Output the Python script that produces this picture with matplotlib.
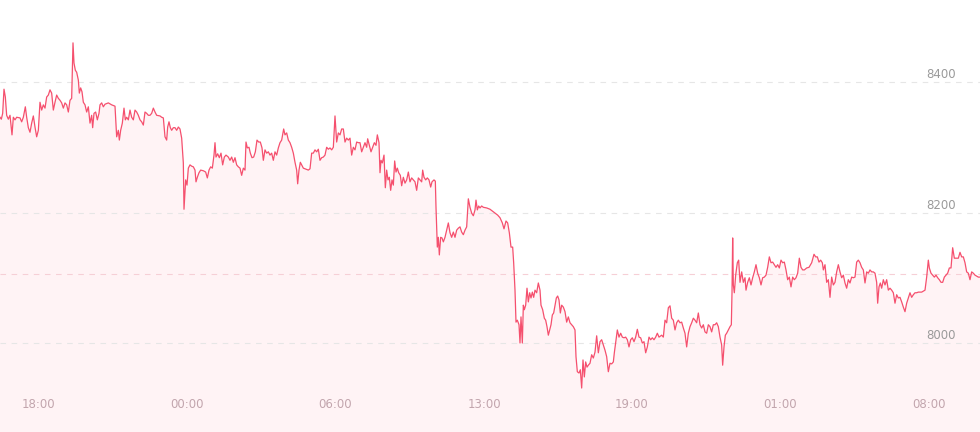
import matplotlib
matplotlib.use("Agg")
import matplotlib.pyplot as plt
from matplotlib.transforms import blended_transform_factory

# sample index (intraday bars) and price
t = [0, 4, 8, 12, 16, 20, 25, 30, 36, 40, 45, 50, 60, 65, 70, 76, 80, 85, 90, 95,
     100, 105, 110, 115, 120, 125, 130, 135, 140, 145, 150, 155, 160, 165, 170, 175, 180, 185, 190, 195,
     200, 205, 210, 215, 219, 222, 226, 230, 235, 238, 242, 246, 250, 255, 260, 265, 270, 275, 278, 282,
     287, 292, 297, 300, 305, 310, 315, 325, 335, 345, 350, 355, 358, 362, 367, 372, 376, 380, 385, 390,
     395, 400, 405, 410, 415, 420, 425, 430, 435, 440, 445, 450, 455, 460, 465, 470, 480, 485, 490, 495,
     500, 503, 507, 511, 515, 520, 525, 530, 535, 540, 545, 550, 552, 557, 561, 565, 570, 575, 580, 585,
     588, 592, 597, 602, 610, 617, 622, 627, 632, 637, 642, 645, 648, 653, 658, 663, 668, 673, 678, 685,
     690, 695, 700, 705, 710, 715, 720, 725, 730, 735, 738, 742, 747, 751, 756, 761, 766, 771, 776, 781,
     786, 790, 795, 800, 805, 810, 815, 820, 825, 830, 835, 840, 845, 851, 855, 860, 865, 870, 875, 880,
     885, 890, 893, 897, 901, 905, 910, 915, 925, 930, 935, 940, 945, 950, 955, 960, 965, 970, 975, 980,
     985, 990, 995, 1000, 1005, 1010, 1015, 1020, 1025, 1030, 1035, 1040, 1045, 1050, 1055, 1060, 1065, 1070, 1075, 1080,
     1085, 1090, 1095, 1100, 1103, 1108, 1113, 1118, 1123, 1128, 1132, 1137, 1140, 1143, 1147, 1152, 1156, 1160, 1164, 1168,
     1172, 1176, 1180, 1184, 1188, 1192, 1196, 1201, 1205, 1210, 1215, 1220, 1225, 1230, 1235, 1240, 1245, 1250, 1255, 1260,
     1265, 1268, 1272, 1277, 1282, 1287, 1292, 1296, 1302, 1306, 1308, 1310, 1312, 1315, 1318, 1322, 1326, 1330, 1335, 1340,
     1345, 1350, 1355, 1360, 1365, 1370, 1375, 1380, 1385, 1390, 1395, 1400, 1405, 1410, 1415, 1420, 1425, 1428, 1432, 1436,
     1440, 1445, 1450, 1460, 1470, 1480, 1485, 1493, 1500, 1507, 1512, 1518, 1523, 1528, 1533, 1538, 1541, 1545, 1548, 1552,
     1557, 1560, 1563, 1567, 1570, 1573, 1577, 1581, 1585, 1589, 1593, 1597, 1601, 1605, 1610, 1615, 1620, 1623, 1628, 1633,
     1637, 1641, 1645, 1649, 1653, 1657, 1661, 1665, 1669, 1673, 1677, 1681, 1685, 1690, 1695, 1700, 1705, 1710, 1715, 1720,
     1725, 1728, 1732, 1737, 1741, 1745, 1749, 1753, 1757, 1761, 1765, 1770, 1775, 1780, 1785, 1790, 1795, 1800, 1805, 1810,
     1815, 1820, 1825, 1830, 1835, 1840, 1843, 1847, 1852, 1857, 1862, 1867, 1872, 1877, 1882, 1887, 1892, 1897, 1902, 1907,
     1912, 1917, 1922, 1927, 1932, 1937, 1942, 1947, 1952, 1957, 1962, 1967, 1972, 1977, 1985, 1990, 1995, 2000, 2005, 2010,
     2015, 2020, 2025, 2030, 2035, 2040, 2045, 2050, 2055, 2060, 2065, 2070, 2075, 2080, 2085, 2090, 2095, 2100, 2105, 2110,
     2115, 2120, 2125, 2130, 2135, 2140, 2145, 2150, 2155, 2160, 2165, 2168, 2172, 2176, 2180, 2185, 2190, 2194, 2196, 2198,
     2200, 2203, 2207, 2212, 2216, 2220, 2225, 2230, 2235, 2238, 2243, 2248, 2253, 2258, 2263, 2268, 2273, 2278, 2283, 2288,
     2293, 2298, 2303, 2308, 2313, 2318, 2323, 2328, 2333, 2338, 2343, 2348, 2353, 2358, 2363, 2368, 2373, 2378, 2383, 2388,
     2393, 2398, 2403, 2408, 2413, 2420, 2427, 2435, 2442, 2447, 2452, 2457, 2462, 2467, 2470, 2475, 2480, 2485, 2490, 2495,
     2500, 2505, 2510, 2515, 2520, 2525, 2530, 2535, 2540, 2545, 2550, 2555, 2560, 2565, 2570, 2575, 2580, 2585, 2590, 2595,
     2600, 2605, 2610, 2615, 2620, 2625, 2630, 2633, 2637, 2641, 2645, 2650, 2655, 2660, 2665, 2670, 2675, 2680, 2685, 2690,
     2695, 2700, 2705, 2710, 2715, 2720, 2725, 2730, 2735, 2740, 2745, 2750, 2755, 2765, 2775, 2780, 2785, 2788, 2793, 2798,
     2803, 2808, 2813, 2818, 2823, 2828, 2833, 2838, 2843, 2848, 2853, 2858, 2863, 2868, 2875, 2880, 2885, 2890, 2895, 2900,
     2905, 2910, 2915, 2920, 2925, 2935, 2940]

price = [8346, 8343, 8352, 8389, 8377, 8349, 8343, 8349, 8319, 8346, 8342, 8346, 8345, 8339, 8346, 8362, 8346, 8330, 8323, 8337,
         8348, 8331, 8316, 8326, 8369, 8357, 8365, 8360, 8377, 8380, 8388, 8383, 8357, 8369, 8380, 8375, 8372, 8368, 8360, 8368,
         8365, 8354, 8372, 8375, 8460, 8429, 8418, 8415, 8403, 8383, 8391, 8385, 8369, 8365, 8354, 8362, 8337, 8349, 8330, 8352,
         8354, 8342, 8352, 8365, 8368, 8362, 8366, 8368, 8365, 8363, 8316, 8326, 8311, 8326, 8337, 8360, 8342, 8346, 8342, 8357,
         8346, 8342, 8357, 8354, 8349, 8342, 8339, 8334, 8354, 8352, 8349, 8349, 8352, 8360, 8354, 8349, 8348, 8346, 8345, 8316,
         8311, 8331, 8339, 8330, 8326, 8330, 8330, 8326, 8331, 8328, 8314, 8276, 8205, 8250, 8242, 8268, 8273, 8271, 8270, 8265,
         8247, 8254, 8261, 8265, 8264, 8262, 8253, 8265, 8270, 8268, 8288, 8307, 8285, 8290, 8284, 8291, 8273, 8285, 8288, 8285,
         8280, 8285, 8277, 8284, 8273, 8270, 8268, 8257, 8268, 8265, 8308, 8299, 8300, 8291, 8284, 8285, 8293, 8311, 8308, 8308,
         8299, 8280, 8296, 8291, 8293, 8288, 8291, 8280, 8293, 8288, 8299, 8307, 8311, 8328, 8319, 8322, 8311, 8307, 8300, 8291,
         8277, 8265, 8244, 8265, 8277, 8273, 8268, 8267, 8265, 8267, 8291, 8291, 8296, 8293, 8297, 8280, 8284, 8285, 8288, 8300,
         8297, 8299, 8296, 8300, 8348, 8308, 8322, 8319, 8328, 8328, 8308, 8314, 8311, 8314, 8288, 8300, 8296, 8308, 8307, 8307,
         8293, 8300, 8307, 8300, 8313, 8303, 8293, 8300, 8307, 8303, 8319, 8307, 8261, 8280, 8276, 8288, 8238, 8265, 8250, 8254,
         8234, 8250, 8242, 8279, 8262, 8268, 8261, 8257, 8241, 8254, 8245, 8250, 8262, 8247, 8253, 8250, 8247, 8234, 8253, 8250,
         8247, 8265, 8254, 8250, 8253, 8250, 8239, 8247, 8250, 8248, 8208, 8178, 8147, 8162, 8135, 8162, 8161, 8155, 8162, 8173,
         8184, 8169, 8162, 8170, 8162, 8173, 8176, 8178, 8170, 8166, 8173, 8178, 8221, 8208, 8199, 8195, 8204, 8219, 8204, 8210,
         8207, 8210, 8208, 8207, 8205, 8201, 8199, 8196, 8192, 8184, 8175, 8187, 8184, 8169, 8147, 8147, 8123, 8081, 8032, 8035,
         8028, 8000, 8040, 8000, 8058, 8051, 8058, 8084, 8063, 8077, 8069, 8078, 8070, 8081, 8077, 8092, 8081, 8058, 8051, 8038,
         8035, 8025, 8012, 8020, 8028, 8043, 8046, 8058, 8069, 8072, 8066, 8046, 8058, 8055, 8048, 8032, 8040, 8031, 8028, 8025,
         8020, 7979, 7956, 7954, 7959, 7931, 7974, 7948, 7971, 7963, 7966, 7969, 7982, 7977, 7986, 8011, 7985, 8002, 8005, 7997,
         7989, 7979, 7956, 7969, 7968, 7971, 7985, 8000, 8020, 8009, 8015, 8009, 8008, 8009, 8005, 7994, 8005, 8008, 8002, 8009,
         8021, 8009, 8008, 8000, 8002, 7985, 7994, 8009, 8005, 8008, 8005, 8009, 8015, 8009, 8012, 8009, 8035, 8031, 8054, 8057,
         8038, 8035, 8020, 8031, 8035, 8031, 8032, 8023, 8015, 7994, 8015, 8025, 8031, 8038, 8035, 8031, 8046, 8028, 8023, 8028,
         8017, 8015, 8028, 8025, 8017, 8028, 8028, 8031, 8025, 8009, 7997, 7966, 7994, 8012, 8015, 8020, 8025, 8028, 8077, 8161,
         8089, 8077, 8104, 8123, 8127, 8093, 8109, 8093, 8100, 8081, 8093, 8100, 8089, 8100, 8109, 8120, 8107, 8100, 8089, 8100,
         8101, 8104, 8116, 8132, 8123, 8124, 8120, 8116, 8120, 8115, 8127, 8123, 8124, 8112, 8097, 8101, 8086, 8101, 8097, 8100,
         8107, 8130, 8116, 8112, 8112, 8115, 8116, 8123, 8136, 8132, 8132, 8124, 8127, 8123, 8112, 8120, 8093, 8097, 8070, 8101,
         8089, 8093, 8109, 8120, 8109, 8100, 8104, 8092, 8084, 8097, 8092, 8101, 8100, 8101, 8124, 8127, 8123, 8116, 8112, 8092,
         8109, 8107, 8112, 8109, 8109, 8107, 8093, 8061, 8086, 8092, 8084, 8097, 8089, 8097, 8081, 8084, 8081, 8077, 8061, 8074,
         8069, 8070, 8063, 8055, 8048, 8061, 8069, 8077, 8070, 8074, 8077, 8077, 8078, 8078, 8081, 8101, 8127, 8115, 8107, 8104,
         8101, 8104, 8100, 8097, 8093, 8093, 8101, 8104, 8107, 8115, 8115, 8146, 8130, 8130, 8130, 8139, 8132, 8132, 8123, 8109,
         8107, 8097, 8109, 8107, 8104, 8101, 8101]

tick_idx = [114, 561, 1005, 1452, 1896, 2340, 2787]
tick_labels = ["18:00", "00:00", "06:00", "13:00", "19:00", "01:00", "08:00"]
grid_levels = [8000, 8200, 8400]
prev_close = 8106

LINE = "#f5506e"
FILL = "#fff3f5"

fig = plt.figure(figsize=(9.8, 4.32), dpi=100)
ax = fig.add_axes([0, 0, 1, 1])
ymin, ymax = 7863.6, 8525.7
ax.set_xlim(0, 2940)
ax.set_ylim(ymin, ymax)

# price labels sit just above their grid line, near the right edge
ylab_tr = blended_transform_factory(ax.transAxes, ax.transData)

ax.fill_between(t, price, ymin, color=FILL, lw=0, zorder=1)
for g in grid_levels:
    ax.axhline(g, color="#e6e6e6", lw=0.8, ls=(0, (5, 5)), zorder=2)
    ax.text(0.975, g + 1.5, str(g), transform=ylab_tr,
            ha="right", va="bottom", fontsize=8.5, color="#9a9a9a", zorder=4)
ax.axhline(prev_close, color="#f6cfd6", lw=0.8, ls=(0, (5, 5)), zorder=2)
ax.plot(t, price, color=LINE, lw=0.9, zorder=3)

for xi, lab in zip(tick_idx, tick_labels):
    ax.text(xi, 7905, lab, ha="center", va="center", fontsize=8.5, color="#c2a5ad", zorder=4)

ax.axis("off")
fig.savefig("out.png", dpi=100)
